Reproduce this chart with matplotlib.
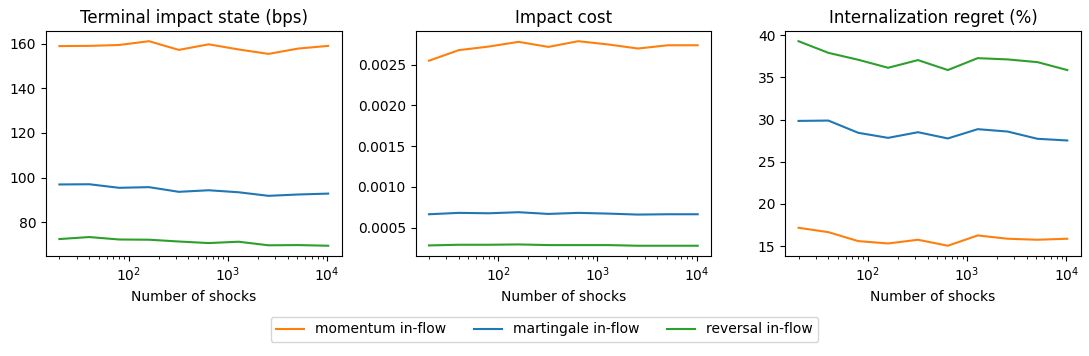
import matplotlib
matplotlib.use("Agg")
import matplotlib.pyplot as plt

n_shocks = [20, 40, 80, 160, 320, 640, 1280, 2560, 5120, 10240]
series_names = ["momentum in-flow", "martingale in-flow", "reversal in-flow"]
series_colors = ["C1", "C0", "C2"]

terminal_momentum = [159.0, 159.1, 159.5, 161.2, 157.3, 159.8, 157.5, 155.5, 157.9, 159.1]
terminal_martingale = [96.9, 97.0, 95.4, 95.7, 93.6, 94.3, 93.4, 91.8, 92.4, 92.8]
terminal_reversal = [72.4, 73.3, 72.2, 72.1, 71.3, 70.6, 71.2, 69.6, 69.7, 69.4]

cost_momentum = [0.00255, 0.00268, 0.002724, 0.002782, 0.00272, 0.00279, 0.00275, 0.00270, 0.00274, 0.00274]
cost_martingale = [0.000663, 0.00068, 0.000675, 0.000688, 0.000667, 0.00068, 0.000671, 0.000659, 0.000663, 0.000663]
cost_reversal = [0.00028, 0.000288, 0.000288, 0.000292, 0.000284, 0.000284, 0.000284, 0.000276, 0.000276, 0.000276]

regret_momentum = [17.17, 16.65, 15.59, 15.31, 15.75, 15.04, 16.26, 15.87, 15.75, 15.87]
regret_martingale = [29.84, 29.88, 28.43, 27.83, 28.5, 27.76, 28.86, 28.58, 27.72, 27.52]
regret_reversal = [39.29, 37.91, 37.09, 36.14, 37.05, 35.87, 37.28, 37.13, 36.81, 35.87]

panels = [
    ("Terminal impact state (bps)", [terminal_momentum, terminal_martingale, terminal_reversal]),
    ("Impact cost", [cost_momentum, cost_martingale, cost_reversal]),
    ("Internalization regret (%)", [regret_momentum, regret_martingale, regret_reversal]),
]

fig, axes = plt.subplots(1, 3, figsize=(10.89, 3.56), dpi=100)
fig.subplots_adjust(left=0.0422, right=0.9924, top=0.913, bottom=0.281, wspace=0.25)

for ax, (title, data) in zip(axes, panels):
    for vals, name, col in zip(data, series_names, series_colors):
        ax.plot(n_shocks, vals, color=col, label=name)
    ax.set_xscale("log")
    ax.set_title(title)
    ax.set_xlabel("Number of shocks")

handles, labels = axes[0].get_legend_handles_labels()
fig.legend(handles, labels, loc="lower center", bbox_to_anchor=(0.5, 0.02), ncol=3)

fig.savefig("out.png", dpi=100)
